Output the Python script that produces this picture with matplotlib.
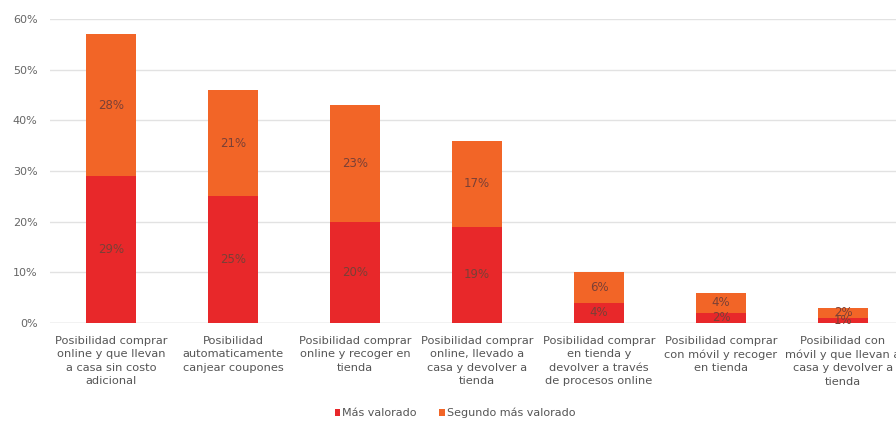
import matplotlib
matplotlib.use("Agg")
import matplotlib.pyplot as plt
import numpy as np

categories = [
    "Posibilidad comprar\nonline y que llevan\na casa sin costo\nadicional",
    "Posibilidad\nautomaticamente\ncanjear coupones",
    "Posibilidad comprar\nonline y recoger en\ntienda",
    "Posibilidad comprar\nonline, llevado a\ncasa y devolver a\ntienda",
    "Posibilidad comprar\nen tienda y\ndevolver a través\nde procesos online",
    "Posibilidad comprar\ncon móvil y recoger\nen tienda",
    "Posibilidad con\nmóvil y que llevan a\ncasa y devolver a\ntienda",
]
mas_valorado = [29, 25, 20, 19, 4, 2, 1]
segundo_valorado = [28, 21, 23, 17, 6, 4, 2]
series_names = ["Más valorado", "Segundo más valorado"]
yticks = [0, 10, 20, 30, 40, 50, 60]

red = "#e8282a"
orange = "#f26527"

fig = plt.figure(figsize=(8.96, 4.22), dpi=100)
W, H = 896, 422
ax = fig.add_axes([50 / W, (H - 323) / H, 854 / W, (323 - 19) / H])

x = np.arange(len(categories))
bw = 0.41
b1 = ax.bar(x, mas_valorado, bw, color=red, label=series_names[0], zorder=2)
b2 = ax.bar(x, segundo_valorado, bw, bottom=mas_valorado, color=orange,
            label=series_names[1], zorder=2)

for xi, a, b in zip(x, mas_valorado, segundo_valorado):
    ax.text(xi, a / 2, f"{a}%", ha="center", va="center", fontsize=8.5,
            color="#7a4036", zorder=3)
    ax.text(xi, a + b / 2, f"{b}%", ha="center", va="center", fontsize=8.5,
            color="#7a4036", zorder=3)

ax.set_xlim(-0.5, len(categories) - 0.5)
ax.set_ylim(0, 60)
ax.set_yticks(yticks)
ax.set_yticklabels([f"{t}%" for t in yticks])
ax.yaxis.grid(True, color="#e2e2e2", linewidth=1, zorder=0)
ax.set_axisbelow(True)
for s in ax.spines.values():
    s.set_visible(False)
ax.tick_params(axis="y", length=0, labelsize=8, labelcolor="#666666", pad=9)
ax.tick_params(axis="x", length=0, pad=9)
ax.set_xticks(x)
ax.set_xticklabels(categories, fontsize=8.2, color="#555555", linespacing=1.45)
ax.axhline(0, color="#d8d8d8", linewidth=1, zorder=1)

fig.legend(handles=[b1, b2], labels=series_names, loc="center",
           bbox_to_anchor=(455 / W, 1 - 413 / H), ncol=2, frameon=False,
           fontsize=8, labelcolor="#555555", handlelength=0.5,
           handleheight=0.6, handletextpad=0.2, columnspacing=2.0)

fig.savefig("out.png", dpi=100)
